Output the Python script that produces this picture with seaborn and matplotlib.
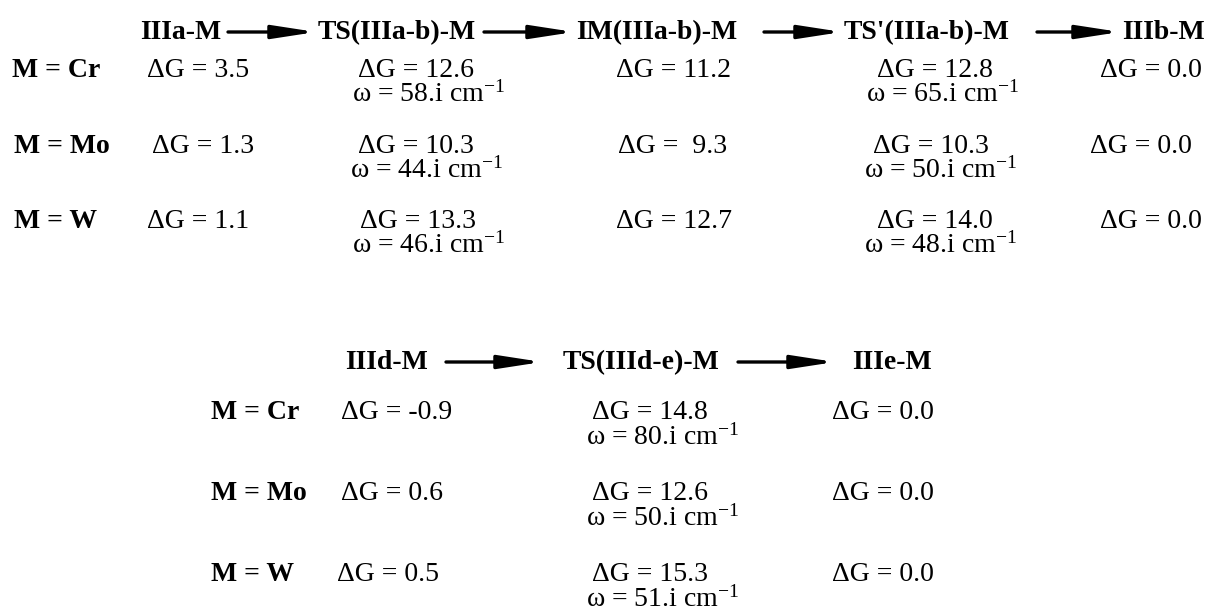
import matplotlib
matplotlib.use("Agg")
import matplotlib.pyplot as plt
import seaborn as sns

# metals (rows) and species (columns)
metals = ["Cr", "Mo", "W"]
top_species = ["IIIa-M", "TS(IIIa-b)-M", "IM(IIIa-b)-M", "TS'(IIIa-b)-M", "IIIb-M"]
bottom_species = ["IIId-M", "TS(IIId-e)-M", "IIIe-M"]

# free energies (kcal/mol) for the IIIa -> IIIb path
dG_IIIa = [3.5, 1.3, 1.1]
dG_TS_ab = [12.6, 10.3, 13.3]
dG_IM_ab = [11.2, 9.3, 12.7]
dG_TSp_ab = [12.8, 10.3, 14.0]
dG_IIIb = [0.0, 0.0, 0.0]
# imaginary frequencies (cm-1)
w_TS_ab = [58, 44, 46]
w_TSp_ab = [65, 50, 48]

# IIId -> IIIe path
dG_IIId = [-0.9, 0.6, 0.5]
dG_TS_de = [14.8, 12.6, 15.3]
dG_IIIe = [0.0, 0.0, 0.0]
w_TS_de = [80, 50, 51]

sns.set_theme(style="white")
plt.rcParams["font.family"] = ["Liberation Serif", "DejaVu Serif"]
plt.rcParams["mathtext.fontset"] = "custom"
plt.rcParams["mathtext.rm"] = "Liberation Serif"
plt.rcParams["mathtext.it"] = "Liberation Serif:italic"
plt.rcParams["mathtext.bf"] = "Liberation Serif:bold"

fig = plt.figure(figsize=(12.13, 6.13), dpi=100)
ax = fig.add_axes([0, 0, 1, 1])
ax.set_xlim(0, 1213)
ax.set_ylim(613, 0)
ax.axis("off")

FS = 20


def txt(x, y, s, bold=False):
    ax.text(x, y, s, fontsize=FS, ha="left", va="baseline",
            fontweight="bold" if bold else "normal", color="black")


def arrow(x0, x1, y):
    ax.annotate("", xy=(x1, y), xytext=(x0, y),
                arrowprops=dict(arrowstyle="-|>,head_length=1.3,head_width=0.2",
                                mutation_scale=20, lw=2.4, color="black",
                                shrinkA=0, shrinkB=0))


def dg(v, pad=False):
    return f"ΔG = {v:4.1f}" if pad else f"ΔG = {v:.1f}"


def om(w):
    return f"ω = {w}.i cm$^{{-1}}$"


# ---- top scheme ----
hy = 39
hx = [140, 318, 576, 844, 1122]
for x, s in zip(hx, top_species):
    txt(x, hy, s, bold=True)
for x0, x1 in [(228, 316), (484, 574), (764, 842), (1037, 1120)]:
    arrow(x0, x1, hy - 7)

row_y = [77, 153, 228]
lab_x = [12, 14, 14]
c0_x = [147, 152, 147]
c1_x = [358, 358, 360]
c1w_x = [352, 350, 352]
c2_x = [616, 618, 616]
c3_x = [877, 873, 877]
c3w_x = [866, 864, 864]
c4_x = [1100, 1090, 1100]
for i, m in enumerate(metals):
    y = row_y[i]
    txt(lab_x[i], y, f"M = {m}", bold=True)
    txt(c0_x[i], y, dg(dG_IIIa[i]))
    txt(c1_x[i], y, dg(dG_TS_ab[i]))
    txt(c1w_x[i], y + 25, om(w_TS_ab[i]))
    txt(c2_x[i], y, dg(dG_IM_ab[i], pad=True))
    txt(c3_x[i], y, dg(dG_TSp_ab[i]))
    txt(c3w_x[i], y + 25, om(w_TSp_ab[i]))
    txt(c4_x[i], y, dg(dG_IIIb[i]))

# ---- bottom scheme ----
by = 369
bx = [345, 563, 852]
for x, s in zip(bx, bottom_species):
    txt(x, by, s, bold=True)
for x0, x1 in [(446, 542), (738, 835)]:
    arrow(x0, x1, by - 7)

brow_y = [419, 500, 581]
b0_x = [341, 341, 337]
for i, m in enumerate(metals):
    y = brow_y[i]
    txt(211, y, f"M = {m}", bold=True)
    txt(b0_x[i], y, dg(dG_IIId[i]))
    txt(592, y, dg(dG_TS_de[i]))
    txt(586, y + 26, om(w_TS_de[i]))
    txt(832, y, dg(dG_IIIe[i]))

fig.savefig("out.png", dpi=100, facecolor="white")
